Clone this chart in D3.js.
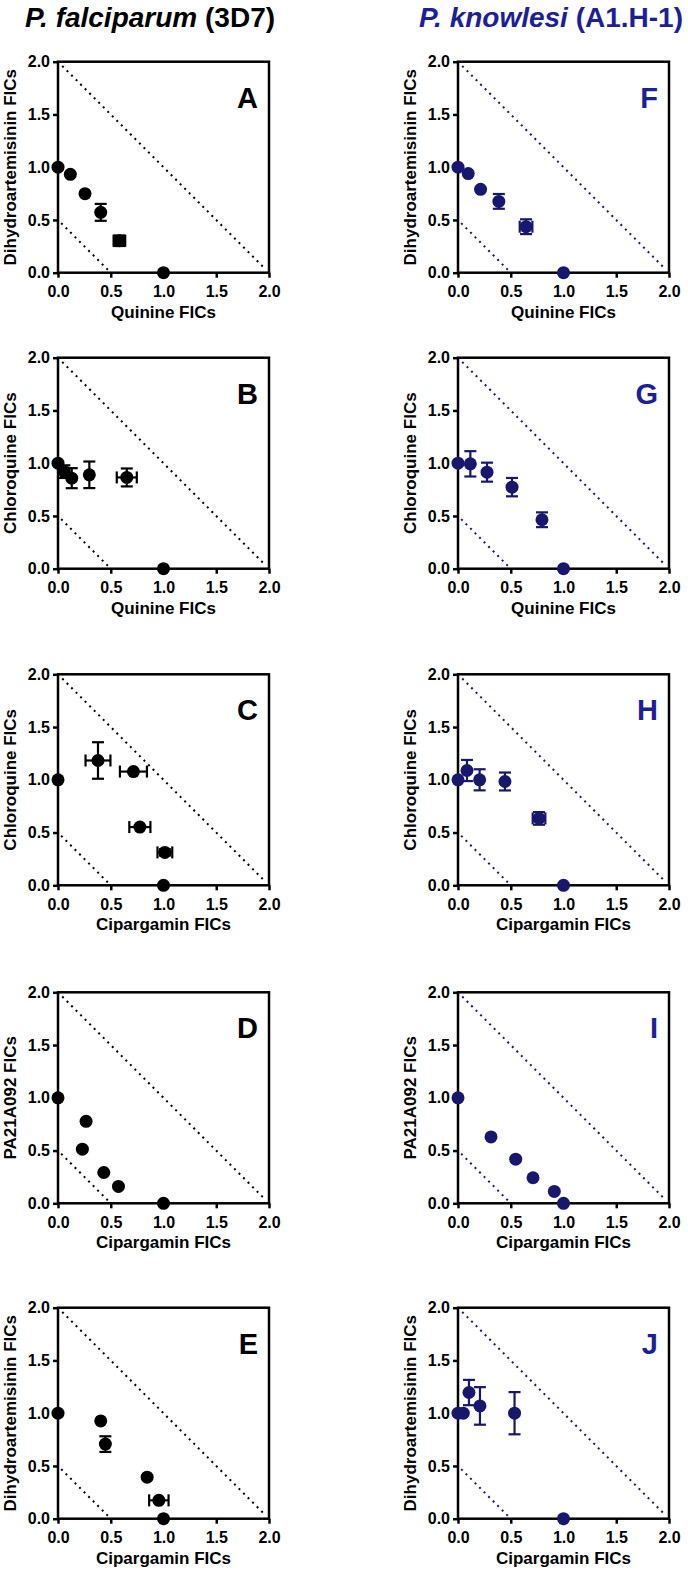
<!DOCTYPE html>
<html><head><meta charset="utf-8">
<script src="https://cdn.jsdelivr.net/npm/d3@7"></script>
<style>
body{margin:0;background:#fff}
text{font-family:Arial,"Liberation Sans",sans-serif;font-weight:bold}
</style>
</head><body>
<svg id="c" width="688" height="1578"></svg>
<script>
// ---------- data ----------
const tickValues = [0, 0.5, 1.0, 1.5, 2.0];
const headers = ["P. falciparum", "P. knowlesi"];
const strains = [" (3D7)", " (A1.H-1)"];

const A_x = [0, 0.117, 0.256, 0.405, 0.582, 1.0];
const A_y = [1.0, 0.932, 0.749, 0.572, 0.303, 0];
const A_xerr = [0, 0, 0, 0, 0.055, 0];
const A_yerr = [0, 0, 0, 0.08, 0.05, 0];

const B_x = [0, 0.06, 0.13, 0.297, 0.652, 1.0];
const B_y = [1.0, 0.92, 0.858, 0.89, 0.865, 0];
const B_xerr = [0, 0, 0, 0, 0.095, 0];
const B_yerr = [0, 0.06, 0.095, 0.126, 0.085, 0];

const C_x = [0, 0.379, 0.715, 0.776, 1.013, 1.0];
const C_y = [1.0, 1.183, 1.078, 0.552, 0.312, 0];
const C_xerr = [0, 0.118, 0.128, 0.1, 0.07, 0];
const C_yerr = [0, 0.173, 0, 0, 0.03, 0];

const D_x = [0, 0.266, 0.231, 0.434, 0.573, 1.0];
const D_y = [1.0, 0.777, 0.513, 0.292, 0.160, 0];

const E_x = [0, 0.405, 0.449, 0.845, 0.956, 1.0];
const E_y = [1.0, 0.927, 0.707, 0.394, 0.174, 0];
const E_xerr = [0, 0, 0, 0, 0.092, 0];
const E_yerr = [0, 0, 0.074, 0, 0, 0];

const F_x = [0, 0.097, 0.214, 0.387, 0.645, 1.0];
const F_y = [1.0, 0.94, 0.79, 0.676, 0.436, 0];
const F_xerr = [0, 0, 0, 0, 0.06, 0];
const F_yerr = [0, 0, 0, 0.07, 0.07, 0];

const G_x = [0, 0.117, 0.275, 0.512, 0.796, 1.0];
const G_y = [1.0, 0.994, 0.915, 0.773, 0.464, 0];
const G_yerr = [0, 0.12, 0.09, 0.087, 0.07, 0];

const H_x = [0, 0.085, 0.205, 0.445, 0.768, 1.0];
const H_y = [1.0, 1.088, 1.0, 0.984, 0.634, 0];
const H_xerr = [0, 0, 0, 0, 0.06, 0];
const H_yerr = [0, 0.1, 0.1, 0.085, 0.06, 0];

const I_x = [0, 0.313, 0.547, 0.711, 0.913, 1.0];
const I_y = [1.0, 0.629, 0.418, 0.242, 0.113, 0];

const J_x = [0, 0.05, 0.104, 0.208, 0.536, 1.0];
const J_y = [1.0, 1.0, 1.196, 1.069, 1.0, 0];
const J_yerr = [0, 0, 0.12, 0.178, 0.2, 0];

const zeros = [0, 0, 0, 0, 0, 0];

// ---------- layout ----------
const colX = [58, 458];
const rowY = [61.7, 357.7, 674.3, 992.3, 1307.7];
const PW = 211, PH = 211;
const markColor = ["#000000", "#17176e"];
const headColor = ["#000000", "#1e1e98"];

const panels = [
  {L:"A", c:0, r:0, xl:"Quinine FICs", yl:"Dihydroartemisinin FICs", x:A_x, y:A_y, xe:A_xerr, ye:A_yerr},
  {L:"B", c:0, r:1, xl:"Quinine FICs", yl:"Chloroquine FICs", x:B_x, y:B_y, xe:B_xerr, ye:B_yerr},
  {L:"C", c:0, r:2, xl:"Cipargamin FICs", yl:"Chloroquine FICs", x:C_x, y:C_y, xe:C_xerr, ye:C_yerr},
  {L:"D", c:0, r:3, xl:"Cipargamin FICs", yl:"PA21A092 FICs", x:D_x, y:D_y, xe:zeros, ye:zeros},
  {L:"E", c:0, r:4, xl:"Cipargamin FICs", yl:"Dihydroartemisinin FICs", x:E_x, y:E_y, xe:E_xerr, ye:E_yerr},
  {L:"F", c:1, r:0, xl:"Quinine FICs", yl:"Dihydroartemisinin FICs", x:F_x, y:F_y, xe:F_xerr, ye:F_yerr},
  {L:"G", c:1, r:1, xl:"Quinine FICs", yl:"Chloroquine FICs", x:G_x, y:G_y, xe:zeros, ye:G_yerr},
  {L:"H", c:1, r:2, xl:"Cipargamin FICs", yl:"Chloroquine FICs", x:H_x, y:H_y, xe:H_xerr, ye:H_yerr},
  {L:"I", c:1, r:3, xl:"Cipargamin FICs", yl:"PA21A092 FICs", x:I_x, y:I_y, xe:zeros, ye:zeros},
  {L:"J", c:1, r:4, xl:"Cipargamin FICs", yl:"Dihydroartemisinin FICs", x:J_x, y:J_y, xe:zeros, ye:J_yerr},
];

const svg = d3.select("#c");

// headers
[25, 419].forEach((hx, i) => {
  const t = svg.append("text").attr("x", hx).attr("y", 27)
    .attr("font-size", 28).attr("fill", headColor[i]);
  t.append("tspan").attr("font-style", "italic").text(headers[i]);
  t.append("tspan").text(strains[i]);
});

panels.forEach(p => {
  const g = svg.append("g").attr("transform", `translate(${colX[p.c]},${rowY[p.r]})`);
  const x = d3.scaleLinear().domain([0, 2]).range([0, PW]);
  const y = d3.scaleLinear().domain([0, 2]).range([PH, 0]);
  const mc = markColor[p.c];

  // axes
  const ax = g.append("g").attr("transform", `translate(0,${PH})`)
    .call(d3.axisBottom(x).tickValues(tickValues).tickFormat(d3.format(".1f")).tickSize(5).tickPadding(4));
  const ay = g.append("g")
    .call(d3.axisLeft(y).tickValues(tickValues).tickFormat(d3.format(".1f")).tickSize(5).tickPadding(3));
  [ax, ay].forEach(a => {
    a.select(".domain").remove();
    a.selectAll("line").attr("stroke", "#000").attr("stroke-width", 2.5);
    a.selectAll("text").attr("font-size", 16).attr("fill", "#000")
      .attr("font-family", 'Arial,"Liberation Sans",sans-serif').attr("font-weight", "bold");
  });
  ax.selectAll("text").attr("dy", "0.71em").attr("y", 13);

  // frame
  g.append("rect").attr("x", 0).attr("y", 0).attr("width", PW).attr("height", PH)
    .attr("fill", "none").attr("stroke", "#000").attr("stroke-width", 2.5);

  // additivity lines (x + y = 2 and x + y = 0.5)
  [[0.04, 1.96, 1.97, 0.03], [0.03, 0.47, 0.48, 0.02]].forEach(s => {
    g.append("line").attr("x1", x(s[0])).attr("y1", y(s[1])).attr("x2", x(s[2])).attr("y2", y(s[3]))
      .attr("stroke", mc).attr("stroke-width", 2).attr("stroke-dasharray", "2 4.4");
  });

  const pts = p.x.map((v, i) => ({x: v, y: p.y[i], xe: p.xe[i], ye: p.ye[i]}));
  const cap = 6;
  const eb = g.append("g").attr("stroke", mc).attr("stroke-width", 2.2).attr("fill", "none");
  pts.forEach(d => {
    if (d.ye > 0) {
      const cx = x(d.x), y1 = y(d.y + d.ye), y2 = y(d.y - d.ye);
      eb.append("line").attr("x1", cx).attr("x2", cx).attr("y1", y1).attr("y2", y2);
      eb.append("line").attr("x1", cx - cap).attr("x2", cx + cap).attr("y1", y1).attr("y2", y1);
      eb.append("line").attr("x1", cx - cap).attr("x2", cx + cap).attr("y1", y2).attr("y2", y2);
    }
    if (d.xe > 0) {
      const cy = y(d.y), x1 = x(d.x - d.xe), x2 = x(d.x + d.xe);
      eb.append("line").attr("y1", cy).attr("y2", cy).attr("x1", x1).attr("x2", x2);
      eb.append("line").attr("y1", cy - cap).attr("y2", cy + cap).attr("x1", x1).attr("x2", x1);
      eb.append("line").attr("y1", cy - cap).attr("y2", cy + cap).attr("x1", x2).attr("x2", x2);
    }
  });

  g.selectAll("circle.pt").data(pts).join("circle").attr("class", "pt")
    .attr("cx", d => x(d.x)).attr("cy", d => y(d.y)).attr("r", 6.5).attr("fill", mc);

  // panel letter
  g.append("text").attr("x", PW - 11).attr("y", 46).attr("text-anchor", "end")
    .attr("font-size", 29).attr("fill", headColor[p.c]).text(p.L);

  // axis titles
  g.append("text").attr("x", PW / 2).attr("y", PH + 45).attr("text-anchor", "middle")
    .attr("font-size", 17).attr("fill", "#000").text(p.xl);
  g.append("text").attr("transform", `translate(-42,${PH / 2}) rotate(-90)`)
    .attr("text-anchor", "middle").attr("font-size", 17).attr("fill", "#000").text(p.yl);
});
</script>
</body></html>
